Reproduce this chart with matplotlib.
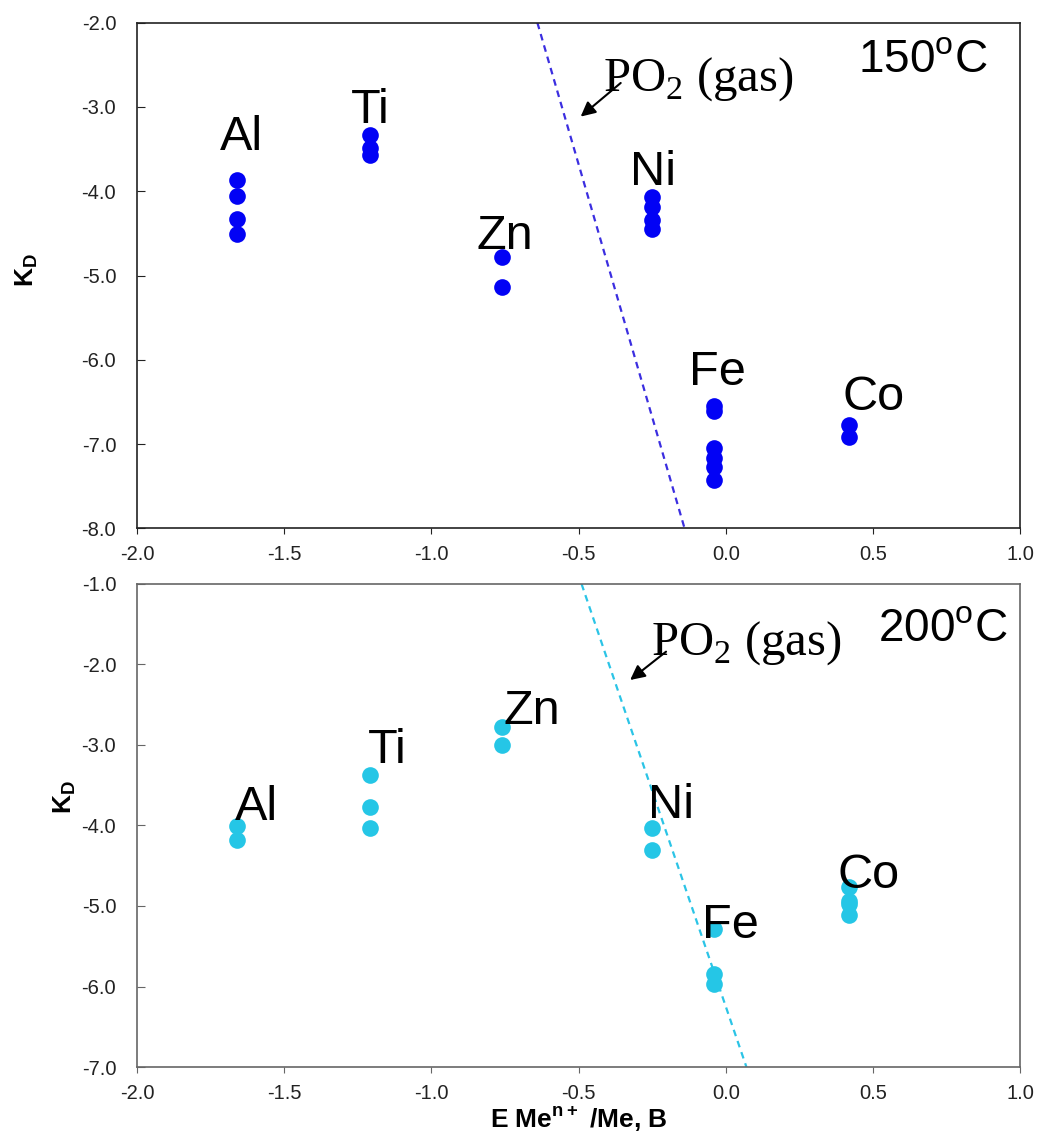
import matplotlib
matplotlib.use('Agg')
import matplotlib.pyplot as plt
import numpy as np

plt.rcParams['font.family'] = ['Liberation Sans', 'DejaVu Sans']
plt.rcParams['mathtext.fontset'] = 'custom'
plt.rcParams['mathtext.rm'] = 'Liberation Serif'
plt.rcParams['mathtext.sf'] = 'Liberation Sans'
plt.rcParams['mathtext.bf'] = 'Liberation Sans:bold'

# element standard potentials (x) and K_D values, 150 C
elements = ['Al', 'Ti', 'Zn', 'Ni', 'Fe', 'Co']
e_pot = [-1.66, -1.21, -0.76, -0.25, -0.04, 0.42]
kd_150 = [
    [-3.87, -4.06, -4.33, -4.51],
    [-3.33, -3.49, -3.57],
    [-4.78, -5.13],
    [-4.07, -4.19, -4.34, -4.45],
    [-6.55, -6.61, -7.04, -7.16, -7.27, -7.42],
    [-6.77, -6.91],
]
kd_200 = [
    [-4.01, -4.18],
    [-3.37, -3.77, -4.03],
    [-2.78, -3.00],
    [-4.03, -4.30],
    [-5.28, -5.84, -5.97],
    [-4.76, -4.94, -4.98, -5.11],
]
# PO2 (gas) lines
po2_150_x = [-0.64, -0.14]
po2_150_y = [-2.0, -8.0]
po2_200_x = [-0.49, 0.07]
po2_200_y = [-1.0, -7.0]

x_ticks = [-2.0, -1.5, -1.0, -0.5, 0.0, 0.5, 1.0]
y_ticks_150 = [-2.0, -3.0, -4.0, -5.0, -6.0, -7.0, -8.0]
y_ticks_200 = [-1.0, -2.0, -3.0, -4.0, -5.0, -6.0, -7.0]

# label positions (data coords, baseline)
lab_150 = [(-1.644, -3.51), (-1.207, -3.19), (-0.749, -4.68),
           (-0.247, -3.93), (-0.029, -6.30), (0.503, -6.60)]
lab_200 = [(-1.595, -3.93), (-1.149, -3.22), (-0.659, -2.74),
           (-0.186, -3.91), (0.014, -5.40), (0.486, -4.78)]

fig = plt.figure(figsize=(10.4, 11.35), dpi=100)
ax1 = fig.add_axes([0.1317, 0.5344, 0.8493, 0.4456])
ax2 = fig.add_axes([0.1317, 0.0599, 0.8493, 0.4256])


def panel(ax, kd, lx, ly, col, lcol, ylim, yticks, labs, spine_col,
          temp, temp_xy, po2_xy, arrow_tail, arrow_tip, ylab_xy):
    for xe, vals in zip(e_pot, kd):
        ax.plot([xe] * len(vals), vals, 'o', color=col, markersize=12,
                markeredgewidth=0, zorder=3)
    ax.plot(lx, ly, color=lcol, lw=1.6, linestyle=(0, (3, 2.3)), zorder=2)
    for name, (tx, ty) in zip(elements, labs):
        ax.text(tx, ty, name, fontsize=35, ha='center', va='baseline', zorder=4)
    ax.set_xlim(-2.0, 1.0)
    ax.set_ylim(*ylim)
    ax.set_xticks(x_ticks)
    ax.set_yticks(yticks)
    ax.set_xticklabels([f'{v:.1f}' for v in x_ticks])
    ax.set_yticklabels([f'{v:.1f}' for v in yticks])
    ax.tick_params(axis='y', direction='in', length=6, pad=15, labelsize=14.5,
                   color=spine_col, labelcolor='#222222')
    ax.tick_params(axis='x', direction='out', length=4, pad=8, labelsize=14.5,
                   color=spine_col, labelcolor='#222222')
    for s in ax.spines.values():
        s.set_color(spine_col)
        s.set_linewidth(1.2)
    ax.text(temp_xy[0], temp_xy[1], temp + r'$^{\mathsf{o}}$C', fontsize=33,
            ha='right', va='baseline', transform=ax.transAxes)
    ax.text(po2_xy[0], po2_xy[1], r'PO$_{\mathrm{2}}$ (gas)', fontsize=35,
            family='Liberation Serif', ha='left', va='baseline')
    ax.annotate('', xy=arrow_tip, xytext=arrow_tail,
                arrowprops=dict(arrowstyle='-|>', color='black', lw=1.5,
                                mutation_scale=22, shrinkA=0, shrinkB=0))
    ax.text(ylab_xy[0], ylab_xy[1], r'K$_{\mathbf{D}}$', fontsize=19,
            fontweight='bold', rotation=90, ha='center', va='center',
            transform=ax.transAxes)


panel(ax1, kd_150, po2_150_x, po2_150_y, '#0202f5', '#3b2ee0', (-8.0, -2.0),
      y_ticks_150, lab_150, '#222222', '150', (0.963, 0.903),
      (-0.418, -2.80), (-0.357, -2.715), (-0.493, -3.114), (-0.1246, 0.511))
panel(ax2, kd_200, po2_200_x, po2_200_y, '#25c6e6', '#2bc4e6', (-7.0, -1.0),
      y_ticks_200, lab_200, '#666666', '200', (0.986, 0.881),
      (-0.253, -1.88), (-0.203, -1.841), (-0.325, -2.193), (-0.0815, 0.559))

ax2.set_xlabel(r'E Me$^{\mathbf{n+}}$ /Me, B', fontsize=19, fontweight='bold',
               labelpad=1)

fig.savefig('out.png', dpi=100)
